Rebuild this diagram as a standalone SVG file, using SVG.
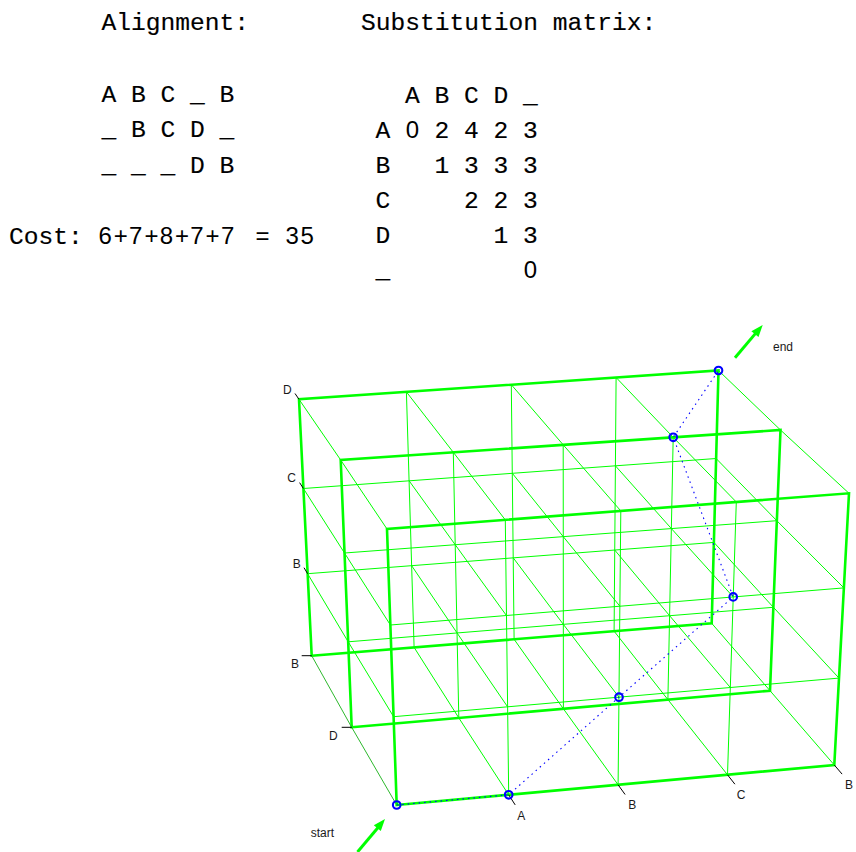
<svg xmlns="http://www.w3.org/2000/svg" width="856" height="852" viewBox="0 0 856 852">
<style>
.mono{font-family:"Liberation Mono","DejaVu Sans Mono",monospace;font-size:24.6px;fill:#000;stroke:#000;stroke-width:0.15}
.sans{font-family:"Liberation Sans",Arial,sans-serif;font-size:24px;fill:#000}
.lbl{font-family:"Liberation Sans",Arial,sans-serif;font-size:12px;fill:#1a1a1a}
.thick{stroke:#00ff00;stroke-width:2.6;fill:none;stroke-linejoin:miter}
.thin{stroke:#00ff00;stroke-width:1;fill:none}
.dk{stroke:#2db82d}
.tick{stroke:#000;stroke-width:1;fill:none}
.route{stroke:#0000ff;stroke-width:1.1;stroke-dasharray:1.5 4;fill:none}
.pt{fill:none;stroke:#0000ff;stroke-width:2.1}
.arr{stroke:#00ff00;stroke-width:3;fill:none}
.head{fill:#00ff00;stroke:none}
</style>
<g id="alignment">
<text class="mono" x="101.5" y="30">Alignment:</text>
<text class="mono" x="101.5 131 160.5 190.1 219.6" y="102">ABC_B</text>
<text class="mono" x="101.5 131 160.5 190.1 219.6" y="137">_BCD_</text>
<text class="mono" x="101.5 131 160.5 190.1 219.6" y="173">___DB</text>
<text class="mono" x="9" y="244">Cost:</text>
<text class="sans" x="98.5 113.8 129.1 144.4 159.7 175 190.3 205.6 220.9" y="244">6+7+8+7+7</text>
<text class="sans" x="255.5" y="244">=</text>
<text class="sans" x="285.5 300.5" y="244">35</text>
</g>
<g id="matrix">
<text class="mono" x="361" y="30">Substitution matrix:</text>
<text class="mono" x="405 434.5 464.1 493.6 523.1" y="103">ABCD_</text>
<text class="mono" x="375.5" y="138">A</text>
<text class="sans" x="405.7" y="138">0</text>
<text class="mono" x="434.5 464.1 493.6 523.1" y="138">2423</text>
<text class="mono" x="375.5 434.5 464.1 493.6 523.1" y="173">B1333</text>
<text class="mono" x="375.5 464.1 493.6 523.1" y="208">C223</text>
<text class="mono" x="375.5 493.6 523.1" y="243">D13</text>
<text class="mono" x="375.5" y="278">_</text>
<text class="sans" x="523.8" y="278">0</text>
</g>
<g id="layer-back">
<line class="thin" x1="307.6" y1="573.7" x2="713.9" y2="542.4"/>
<line class="thin" x1="303.4" y1="488.5" x2="716.1" y2="458.5"/>
<line class="thin" x1="414.1" y1="647.4" x2="406.4" y2="391.9"/>
<line class="thin" x1="514.1" y1="639.3" x2="511.3" y2="384.7"/>
<line class="thin" x1="614.1" y1="631.2" x2="616.1" y2="377.5"/>
<polygon class="thick" points="311.7,655.7 711.7,623.3 718.5,370.5 299,399.3"/>
</g>
<g id="layer-middle">
<line class="thin" x1="348.2" y1="641.8" x2="773.4" y2="607.3"/>
<line class="thin" x1="344.5" y1="553.0" x2="776.8" y2="520.7"/>
<line class="thin" x1="458.8" y1="717.9" x2="453.3" y2="452.3"/>
<line class="thin" x1="563.4" y1="708.8" x2="563.2" y2="444.8"/>
<line class="thin" x1="667.9" y1="699.6" x2="673.2" y2="437.3"/>
<polygon class="thick" points="351.7,727.3 770,690.7 780.5,430 340.7,460"/>
</g>
<g id="depth-lines">
<polyline class="thin dk" points="396.7,805 351.7,727.3 311.7,655.7"/>
<polyline class="thin" points="508.7,794.8 458.8,717.9 414.1,647.4"/>
<polyline class="thin" points="618.1,784.8 563.4,708.8 514.1,639.3"/>
<polyline class="thin" points="727.5,774.8 667.9,699.6 614.1,631.2"/>
<polyline class="thin" points="834.3,765 770,690.7 711.7,623.3"/>
<polyline class="thin" points="393.6,716.7 348.2,641.8 307.6,573.7"/>
<polyline class="thin" points="507.6,706.8 457.0,632.9 411.6,565.6"/>
<polyline class="thin" points="619.0,697.2 563.3,624.3 513.2,557.8"/>
<polyline class="thin" points="730.3,687.5 669.6,615.7 614.7,550.0"/>
<polyline class="thin" points="839.0,678.1 773.4,607.3 713.9,542.4"/>
<polyline class="thin" points="390.4,625.0 344.5,553.0 303.4,488.5"/>
<polyline class="thin" points="506.5,615.6 455.2,544.7 409.1,480.8"/>
<polyline class="thin" points="619.9,606.2 563.3,536.7 512.3,473.3"/>
<polyline class="thin" points="733.2,596.9 671.4,528.6 615.4,465.8"/>
<polyline class="thin" points="843.9,587.9 776.8,520.7 716.1,458.5"/>
<polyline class="thin" points="387,529 340.7,460 299,399.3"/>
<polyline class="thin" points="505.3,519.9 453.3,452.3 406.4,391.9"/>
<polyline class="thin" points="620.8,510.9 563.2,444.8 511.3,384.7"/>
<polyline class="thin" points="736.3,502.0 673.2,437.3 616.1,377.5"/>
<polyline class="thin" points="849,493.3 780.5,430 718.5,370.5"/>
</g>
<g id="layer-front">
<line class="thin" x1="393.6" y1="716.7" x2="839.0" y2="678.1"/>
<line class="thin" x1="390.4" y1="625.0" x2="843.9" y2="587.9"/>
<line class="thin" x1="508.7" y1="794.8" x2="505.3" y2="519.9"/>
<line class="thin" x1="618.1" y1="784.8" x2="620.8" y2="510.9"/>
<line class="thin" x1="727.5" y1="774.8" x2="736.3" y2="502.0"/>
<polygon class="thick" points="396.7,805 834.3,765 849,493.3 387,529"/>
</g>
<g id="axes">
<line class="tick" x1="508.7" y1="794.8" x2="515.2" y2="804.9"/>
<line class="tick" x1="618.1" y1="784.8" x2="625.1" y2="794.5"/>
<line class="tick" x1="727.5" y1="774.8" x2="734.9" y2="784.2"/>
<line class="tick" x1="834.3" y1="765" x2="842.1" y2="774.1"/>
<line class="tick" x1="299" y1="399.3" x2="295" y2="393.5"/>
<line class="tick" x1="303.4" y1="488.5" x2="299.6" y2="482.6"/>
<line class="tick" x1="307.6" y1="573.7" x2="304.0" y2="567.7"/>
<line class="tick" x1="351.7" y1="727.3" x2="341.7" y2="727.3"/>
<line class="tick" x1="311.7" y1="655.7" x2="301.7" y2="655.7"/>
<text class="lbl" x="517.3" y="820">A</text>
<text class="lbl" x="628.3" y="809">B</text>
<text class="lbl" x="736.7" y="799">C</text>
<text class="lbl" x="845" y="789">B</text>
<text class="lbl" x="283" y="394">D</text>
<text class="lbl" x="287.3" y="482">C</text>
<text class="lbl" x="292.7" y="567.7">B</text>
<text class="lbl" x="329" y="740">D</text>
<text class="lbl" x="291" y="668">B</text>
</g>
<g id="connectors">
<polyline class="route" points="396.7,805 508.7,794.8 619.0,697.2 733.2,596.9 673.2,437.3 718.5,370.5"/>
</g>
<g id="node-start"><circle class="pt" cx="396.7" cy="805" r="3.8"/></g>
<g id="node-1"><circle class="pt" cx="508.7" cy="794.8" r="3.8"/></g>
<g id="node-2"><circle class="pt" cx="619.0" cy="697.2" r="3.8"/></g>
<g id="node-3"><circle class="pt" cx="733.2" cy="596.9" r="3.8"/></g>
<g id="node-4"><circle class="pt" cx="673.2" cy="437.3" r="3.8"/></g>
<g id="node-end"><circle class="pt" cx="718.5" cy="370.5" r="3.8"/></g>
<g id="start-arrow">
<line class="arr" x1="357.5" y1="852" x2="378.5" y2="827"/>
<polygon class="head" points="385,819 380.8,831.1 373.8,825.2"/>
<text class="lbl" x="310.7" y="837">start</text>
</g>
<g id="end-arrow">
<line class="arr" x1="735" y1="357.7" x2="756.2" y2="332.6"/>
<polygon class="head" points="762.7,325 758.5,337.1 751.4,331.2"/>
<text class="lbl" x="773" y="350.7">end</text>
</g>
</svg>
